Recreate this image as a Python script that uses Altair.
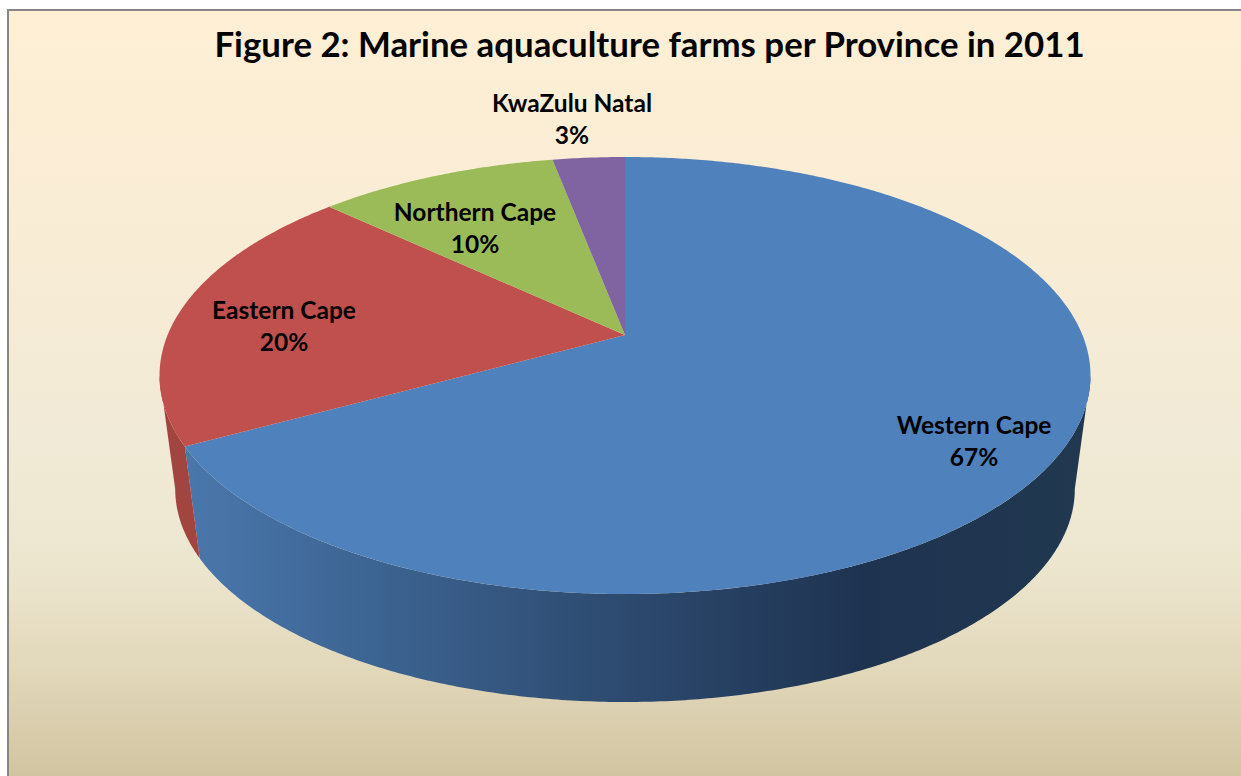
import math
import altair as alt
import pandas as pd

# Shares of marine aquaculture farms, clockwise from twelve o'clock
PROVINCES = ["Western Cape", "Eastern Cape", "Northern Cape", "KwaZulu Natal"]
SHARES = [67, 20, 10, 3]
TOP_COLOURS = ["#4F81BD", "#C0504D", "#9BBB59", "#8064A2"]

# Centre of each two-line label on the page
LABEL_X = [974, 284, 475, 572]
LABEL_Y = [427, 312, 214, 105]

TITLE = "Figure 2: Marine aquaculture farms per Province in 2011"
W, H = 1241, 776
FONT = "Lato"

# Perspective view of a disc: K sets the foreshortening towards the viewer
K = 0.1854
CX = 625
TOP_FACE = dict(a=457.4, b=211.0, c=335.0)
BOTTOM_FACE = dict(a=442.0, b=205.7, c=449.5)
TANGENT = math.degrees(math.asin(K))


def rim(angle, face):
    t = math.radians(angle)
    u, v = math.sin(t), math.cos(t)
    w = 1 + K * v
    return CX + face["a"] * u / w, face["c"] - face["b"] * v / w


def arc(start, end, face, step=0.5):
    n = max(2, int(abs(end - start) / step))
    return [rim(start + (end - start) * i / n, face) for i in range(n + 1)]


def polygon(points):
    return pd.DataFrame(
        {"x": [p[0] for p in points], "y": [p[1] for p in points], "i": range(len(points))}
    )


def filled(points, fill):
    return (
        alt.Chart(polygon(points))
        .mark_line(fill=fill, stroke=None, strokeWidth=0, interpolate="linear-closed")
        .encode(
            x=alt.X("x:Q", scale=alt.Scale(domain=[0, W]), axis=None),
            y=alt.Y("y:Q", scale=alt.Scale(domain=[H, 0]), axis=None),
            order="i:Q",
        )
    )


def side_wall(start, end):
    return arc(start, end, TOP_FACE) + arc(end, start, BOTTOM_FACE)


# Slice boundaries in degrees
edges = [0]
for share in SHARES:
    edges.append(edges[-1] + share / sum(SHARES) * 360)

background = (
    alt.Chart(pd.DataFrame({"a": [0]}))
    .mark_rect(
        fill={
            "gradient": "linear",
            "x1": 0, "x2": 0, "y1": 0, "y2": 1,
            "stops": [
                {"offset": 0, "color": "#FEEFD5"},
                {"offset": 0.25, "color": "#FAEDD5"},
                {"offset": 0.55, "color": "#F1EAD6"},
                {"offset": 0.72, "color": "#EDE6CF"},
                {"offset": 0.85, "color": "#E2D8BB"},
                {"offset": 1, "color": "#D1C4A0"},
            ],
        },
        stroke="#868686",
        strokeWidth=2,
    )
    .encode(x=alt.value(8), x2=alt.value(W + 4), y=alt.value(10), y2=alt.value(H + 4))
)

blue_wall = filled(
    side_wall(90 + TANGENT, edges[1]),
    {
        "gradient": "linear",
        "x1": 1, "x2": 0, "y1": 0, "y2": 0,
        "stops": [
            {"offset": 0, "color": "#213850"},
            {"offset": 0.25, "color": "#1E3350"},
            {"offset": 0.55, "color": "#2F4D73"},
            {"offset": 0.8, "color": "#3D6593"},
            {"offset": 1, "color": "#4A77AC"},
        ],
    },
)
red_wall = filled(side_wall(edges[1], 270 - TANGENT), "#A24541")

slices = [
    filled([(CX, TOP_FACE["c"])] + arc(edges[i], edges[i + 1], TOP_FACE), TOP_COLOURS[i])
    for i in range(len(SHARES))
]

label_frame = pd.DataFrame(
    {
        "text": [f"{name}\n{share}%" for name, share in zip(PROVINCES, SHARES)],
        "x": LABEL_X,
        "y": LABEL_Y,
    }
)
labels = (
    alt.Chart(label_frame)
    .mark_text(
        font=FONT, fontSize=24.5, fontWeight="bold", color="#000000",
        lineBreak="\n", lineHeight=32, align="center", baseline="middle",
    )
    .encode(
        x=alt.X("x:Q", scale=alt.Scale(domain=[0, W]), axis=None),
        y=alt.Y("y:Q", scale=alt.Scale(domain=[H, 0]), axis=None),
        text="text:N",
    )
)

chart = (
    alt.layer(background, blue_wall, red_wall, *slices, labels)
    .properties(
        width=W,
        height=H,
        autosize=alt.AutoSizeParams(type="none"),
        padding=0,
        background="#FFFFFF",
        title=alt.TitleParams(
            TITLE, font=FONT, fontSize=34.8, fontWeight="bold", color="#000000",
            anchor="middle", dx=29, dy=65, offset=0,
        ),
    )
    .configure_view(stroke=None)
)

chart.save("out.html", embed_options={"renderer": "svg", "actions": False})
